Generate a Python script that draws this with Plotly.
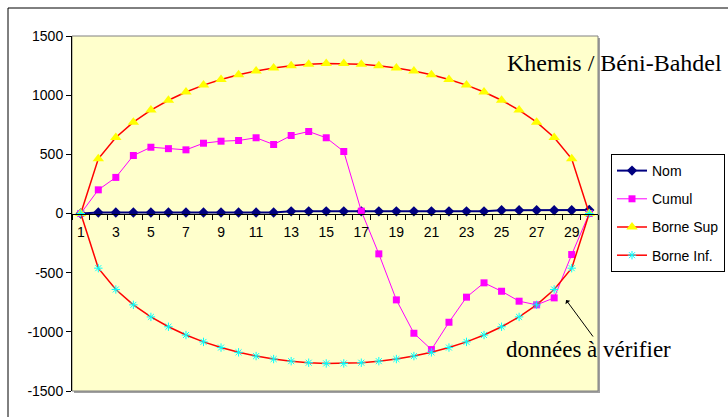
import plotly.graph_objects as go

# Year index (1..30) along the horizontal axis
years = list(range(1, 31))
x_tick_vals = list(range(1, 30, 2))
x_tick_text = [str(v) for v in x_tick_vals]

y_tick_vals = [-1500, -1000, -500, 0, 500, 1000, 1500]
y_tick_text = ["-1500", "-1000", "-500", "0", "500", "1000", "1500"]

# Series
nom = [0, 8, 8, 8, 8, 8, 8, 8, 8, 8, 8, 8, 18, 18, 18, 18, 18, 18, 18,
       18, 18, 18, 18, 18, 28, 28, 28, 28, 28, 30]
cumul = [0, 200, 305, 490, 560, 548, 538, 594, 611, 617, 640, 583, 659, 693,
         640, 524, 20, -341, -730, -1012, -1150, -919, -707, -586, -657,
         -741, -772, -713, -347, 0]
borne_sup = [0, 462, 642, 772, 874, 957, 1027, 1085, 1133, 1173, 1205, 1230,
             1248, 1261, 1267, 1267, 1261, 1248, 1230, 1205, 1173, 1133, 1085,
             1027, 957, 874, 772, 642, 462, 0]
borne_inf = [-v for v in borne_sup]

# Plot-area geometry in pixels
W, H = 728, 417
L, R, T, B = 72, 598, 36, 391
pw, ph = R - L, B - T


def px(xp):
    return (xp - L) / pw


def py(yp):
    return (B - yp) / ph


fig = go.Figure()

fig.add_trace(go.Scatter(
    x=years, y=nom, name="Nom", mode="lines+markers",
    line=dict(color="#000080", width=2),
    marker=dict(symbol="diamond", size=8, color="#000080"),
    legendgroup="a"))
fig.add_trace(go.Scatter(
    x=years, y=cumul, name="Cumul", mode="lines+markers",
    line=dict(color="#FF00FF", width=1),
    marker=dict(symbol="square", size=7, color="#FF00FF"),
    legendgroup="b"))
fig.add_trace(go.Scatter(
    x=years, y=borne_sup, name="Borne Sup", mode="lines+markers",
    line=dict(color="#FF0000", width=1.5),
    marker=dict(symbol="triangle-up", size=10, color="#FFFF00"),
    legendgroup="c"))
fig.add_trace(go.Scatter(
    x=years, y=borne_inf, name="Borne Inf.", mode="lines+markers",
    line=dict(color="#FF0000", width=1.5),
    marker=dict(symbol="asterisk-open", size=7, color="#00FFFF",
                line=dict(color="#00FFFF", width=1)),
    legendgroup="d"))

shapes = [
    # outer chart frame
    dict(type="rect", xref="paper", yref="paper",
         x0=px(8), x1=px(760), y0=py(440), y1=py(8),
         line=dict(color="black", width=1), layer="below"),
    # plot-area shadow
    dict(type="rect", xref="paper", yref="paper",
         x0=px(L + 2), x1=px(R + 2), y0=py(B + 2), y1=py(T + 2),
         fillcolor="#A0A0A0", line=dict(width=0), layer="below"),
    # plot-area fill and border
    dict(type="rect", xref="paper", yref="paper",
         x0=0, x1=1, y0=0, y1=1,
         fillcolor="#FFFFCC", line=dict(color="#808080", width=1),
         layer="below"),
]

annotations = [
    dict(text="Khemis / Béni-Bahdel", xref="paper", yref="paper",
         x=px(614), y=py(63), xanchor="center", yanchor="middle",
         showarrow=False,
         font=dict(family="Liberation Serif", size=24, color="black")),
    dict(text="données à vérifier", xref="paper", yref="paper",
         x=px(588), y=py(349), xanchor="center", yanchor="middle",
         showarrow=False,
         font=dict(family="Liberation Serif", size=23, color="black")),
    dict(text="", x=28.68, y=-731, xref="x", yref="y",
         ax=28, ay=38, showarrow=True, arrowhead=1, arrowsize=1,
         arrowwidth=1, arrowcolor="black"),
]

fig.update_layout(
    width=W, height=H,
    margin=dict(l=L, r=W - R, t=T, b=H - B, autoexpand=False),
    paper_bgcolor="white", plot_bgcolor="rgba(0,0,0,0)",
    font=dict(family="Liberation Sans, Arial", size=14, color="black"),
    showlegend=True,
    legend=dict(x=px(611), y=py(154), xanchor="left", yanchor="top",
                bgcolor="white", bordercolor="black", borderwidth=1,
                font=dict(size=14), tracegroupgap=7),
    shapes=shapes, annotations=annotations,
)

fig.update_xaxes(
    range=[0.5, 30.5], showgrid=False, zeroline=False,
    showline=True, linecolor="black", linewidth=1,
    anchor="free", position=0.5,
    tickmode="array", tickvals=x_tick_vals, ticktext=x_tick_text,
    ticks="", ticklabelstandoff=6,
    minor=dict(ticks="outside", ticklen=5, tickcolor="black",
               tickmode="linear", tick0=0.5, dtick=1, showgrid=False),
)
fig.update_yaxes(
    range=[-1500, 1500], showgrid=False, zeroline=False,
    showline=True, linecolor="black", linewidth=1,
    tickmode="array", tickvals=y_tick_vals, ticktext=y_tick_text,
    ticks="outside", ticklen=5, tickcolor="black",
)

fig.write_html("out.html")
